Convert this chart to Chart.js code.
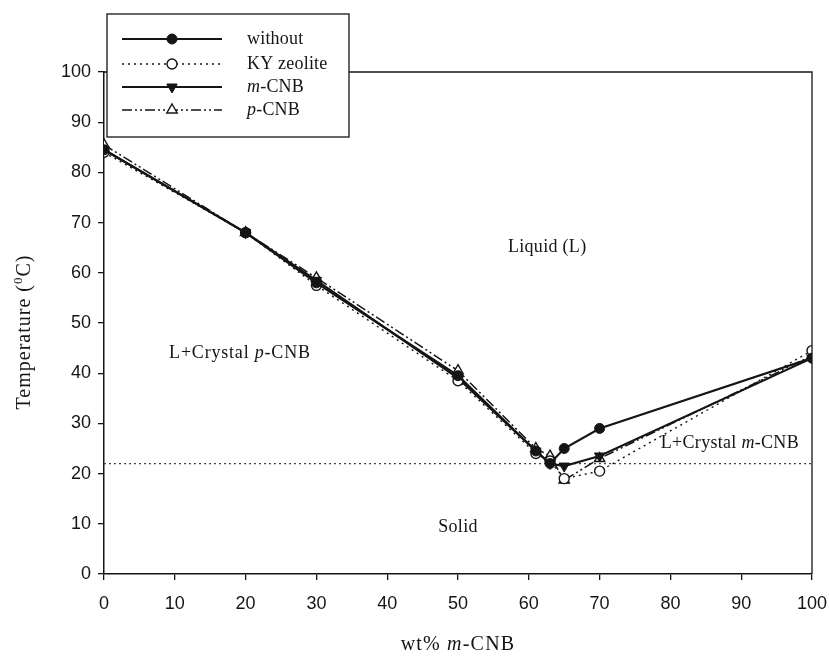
<!DOCTYPE html>
<html><head><meta charset="utf-8">
<script src="https://cdn.jsdelivr.net/npm/chart.js@4.4.1/dist/chart.umd.min.js"></script>
<style>html,body{margin:0;padding:0;background:#fff;}#wrap{width:829px;height:656px;}</style>
</head><body><div id="wrap"><canvas id="c" width="829" height="656"></canvas></div>
<script>
// ---- data ----
const compositions = [0, 20, 30, 50, 61, 63, 65, 70, 100];
const tempWithout   = [84.5, 68, 58, 39.5, 24.5, 22, 25, 29, 43];
const tempKYZeolite = [84, 68, 57.5, 38.5, 24, 22.5, 19, 20.5, 44.5];
const tempMCNB      = [84.5, 68, 58.5, 39, 24.5, 22, 21.5, 23.5, 43];
const tempPCNB      = [85.5, 68, 59, 40.5, 25, 23.5, 18.7, 23, 43.5];
const solidusX = [0, 100];
const solidusY = [22, 22];
const xTickValues = [0, 10, 20, 30, 40, 50, 60, 70, 80, 90, 100];
const yTickValues = [0, 10, 20, 30, 40, 50, 60, 70, 80, 90, 100];
const seriesNames = ['without', 'KY zeolite', 'm-CNB', 'p-CNB'];

const INK = '#151515';
const SERIF = '"Liberation Serif", "DejaVu Serif", serif';
const SANS = '"Liberation Sans", Arial, sans-serif';

function pts(xs, ys) { return xs.map((x, i) => ({x: x, y: ys[i]})); }

const datasets = [
  {label: 'solidus', data: pts(solidusX, solidusY), borderColor: '#444', borderWidth: 1.2,
   borderDash: [2, 3], pointRadius: 0, showLine: true, order: 10},
  {label: seriesNames[0], data: pts(compositions, tempWithout), borderColor: INK, borderWidth: 2.2,
   pointStyle: 'circle', pointRadius: 5, pointBackgroundColor: INK, pointBorderColor: INK, pointBorderWidth: 1, showLine: true},
  {label: seriesNames[1], data: pts(compositions, tempKYZeolite), borderColor: INK, borderWidth: 1.4,
   borderDash: [2, 4], pointStyle: 'circle', pointRadius: 5, pointBackgroundColor: '#fff', pointBorderColor: INK, pointBorderWidth: 1.4, showLine: true},
  {label: seriesNames[2], data: pts(compositions, tempMCNB), borderColor: INK, borderWidth: 2.2,
   pointStyle: 'triangle', pointRotation: 180, pointRadius: 6, pointBackgroundColor: INK, pointBorderColor: INK, pointBorderWidth: 1, showLine: true},
  {label: seriesNames[3], data: pts(compositions, tempPCNB), borderColor: INK, borderWidth: 1.5,
   borderDash: [10, 3, 2, 3, 2, 3], pointStyle: 'triangle', pointRadius: 6, pointBackgroundColor: '#fff', pointBorderColor: INK, pointBorderWidth: 1.4, showLine: true}
];

function drawRich(ctx, parts, cx, cy, size, spacing) {
  ctx.save();
  ctx.textBaseline = 'middle';
  ctx.textAlign = 'left';
  ctx.fillStyle = INK;
  try { ctx.letterSpacing = (spacing || 0) + 'px'; } catch (e) {}
  let total = 0;
  const widths = parts.map(p => {
    ctx.font = (p[1] ? 'italic ' : '') + size + 'px ' + SERIF;
    const w = ctx.measureText(p[0]).width; total += w; return w;
  });
  let x = cx - total / 2;
  parts.forEach((p, i) => {
    ctx.font = (p[1] ? 'italic ' : '') + size + 'px ' + SERIF;
    ctx.fillText(p[0], x, cy);
    x += widths[i];
  });
  ctx.restore();
}
function drawRichLeft(ctx, parts, x, cy, size, spacing) {
  ctx.save();
  ctx.textBaseline = 'middle'; ctx.textAlign = 'left'; ctx.fillStyle = INK;
  try { ctx.letterSpacing = (spacing || 0) + 'px'; } catch (e) {}
  parts.forEach(p => {
    ctx.font = (p[1] ? 'italic ' : '') + size + 'px ' + SERIF;
    ctx.fillText(p[0], x, cy);
    x += ctx.measureText(p[0]).width;
  });
  ctx.restore();
}

const decorPlugin = {
  id: 'decor',
  afterDatasetsDraw(chart) {
    const ctx = chart.ctx, a = chart.chartArea;
    const xs = chart.scales.x, ys = chart.scales.y;
    // frame top and right
    ctx.save();
    ctx.strokeStyle = INK; ctx.lineWidth = 1.3;
    ctx.beginPath();
    ctx.moveTo(a.left, a.top); ctx.lineTo(a.right, a.top); ctx.lineTo(a.right, a.bottom);
    ctx.stroke();
    ctx.restore();
    // region labels
    const P = (x, y) => [xs.getPixelForValue(x), ys.getPixelForValue(y)];
    let p;
    p = P(62.6, 65.1); drawRich(ctx, [['Liquid (L)', false]], p[0], p[1], 18, 0.3);
    p = P(19.2, 44.0); drawRich(ctx, [['L+Crystal ', false], ['p', true], ['-CNB', false]], p[0], p[1], 18, 0.8);
    p = P(88.4, 26.0); drawRich(ctx, [['L+Crystal ', false], ['m', true], ['-CNB', false]], p[0], p[1], 18, 0.3);
    p = P(50, 9.4); drawRich(ctx, [['Solid', false]], p[0], p[1], 18, 0.3);
  },
  afterDraw(chart) {
    const ctx = chart.ctx, a = chart.chartArea;
    // axis titles
    drawRich(ctx, [['wt% ', false], ['m', true], ['-CNB', false]], (a.left + a.right) / 2, 645, 20, 1.2);
    ctx.save();
    ctx.translate(25, 332);
    ctx.rotate(-Math.PI / 2);
    ctx.fillStyle = INK; ctx.textBaseline = 'middle'; ctx.textAlign = 'left';
    try { ctx.letterSpacing = '1px'; } catch (e) {}
    const t1 = 'Temperature (', t3 = 'C)';
    ctx.font = '20px ' + SERIF; const w1 = ctx.measureText(t1).width;
    ctx.font = '13px ' + SERIF; const w2 = ctx.measureText('0').width;
    ctx.font = '20px ' + SERIF; const w3 = ctx.measureText(t3).width;
    let x = -(w1 + w2 + w3) / 2;
    ctx.fillText(t1, x, 0); x += w1;
    ctx.font = '13px ' + SERIF; ctx.fillText('0', x, -6); x += w2;
    ctx.font = '20px ' + SERIF; ctx.fillText(t3, x, 0);
    ctx.restore();
    // legend box
    const L = 107, T = 14, R = 349, B = 137;
    ctx.save();
    ctx.fillStyle = '#fff'; ctx.fillRect(L, T, R - L, B - T);
    ctx.strokeStyle = INK; ctx.lineWidth = 1.3; ctx.strokeRect(L, T, R - L, B - T);
    const rows = [39, 64, 87, 110];
    const labels = [
      [['without', false]],
      [['KY zeolite', false]],
      [['m', true], ['-CNB', false]],
      [['p', true], ['-CNB', false]]
    ];
    for (let i = 0; i < 4; i++) {
      const ds = chart.data.datasets[i + 1];
      const y = rows[i];
      ctx.save();
      ctx.strokeStyle = ds.borderColor; ctx.lineWidth = ds.borderWidth;
      ctx.setLineDash(ds.borderDash || []);
      ctx.beginPath(); ctx.moveTo(122, y); ctx.lineTo(222, y); ctx.stroke();
      ctx.setLineDash([]);
      ctx.fillStyle = ds.pointBackgroundColor; ctx.strokeStyle = ds.pointBorderColor;
      ctx.lineWidth = ds.pointBorderWidth;
      Chart.helpers.drawPoint(ctx, {pointStyle: ds.pointStyle, radius: ds.pointRadius,
        rotation: ds.pointRotation || 0, borderWidth: ds.pointBorderWidth}, 172, y);
      ctx.restore();
      drawRichLeft(ctx, labels[i], 247, y, 18, 0.2);
    }
    ctx.restore();
  }
};

new Chart(document.getElementById('c'), {
  type: 'scatter',
  data: {datasets: datasets},
  plugins: [decorPlugin],
  options: {
    responsive: false, animation: false, devicePixelRatio: 1,
    layout: {padding: {left: 0, top: 72, right: 17, bottom: 0}},
    plugins: {legend: {display: false}, tooltip: {enabled: false}},
    scales: {
      x: {
        type: 'linear', min: 0, max: 100,
        afterBuildTicks: s => { s.ticks = xTickValues.map(v => ({value: v})); },
        afterFit: s => { s.height = 82; s.paddingLeft = 0; s.paddingRight = 0; },
        grid: {display: true, drawOnChartArea: false, drawTicks: true, tickLength: 6, color: INK, lineWidth: 1.3},
        border: {display: true, color: INK, width: 1.5},
        ticks: {color: INK, font: {family: SANS, size: 18}, padding: 13, maxRotation: 0, autoSkip: false},
        title: {display: false}
      },
      y: {
        type: 'linear', min: 0, max: 100,
        afterBuildTicks: s => { s.ticks = yTickValues.map(v => ({value: v})); },
        afterFit: s => { s.width = 104; s.paddingTop = 0; s.paddingBottom = 0; },
        grid: {display: true, drawOnChartArea: false, drawTicks: true, tickLength: 6, color: INK, lineWidth: 1.3},
        border: {display: true, color: INK, width: 1.5},
        ticks: {color: INK, font: {family: SANS, size: 18}, padding: 7, autoSkip: false},
        title: {display: false}
      }
    }
  }
});
</script></body></html>
